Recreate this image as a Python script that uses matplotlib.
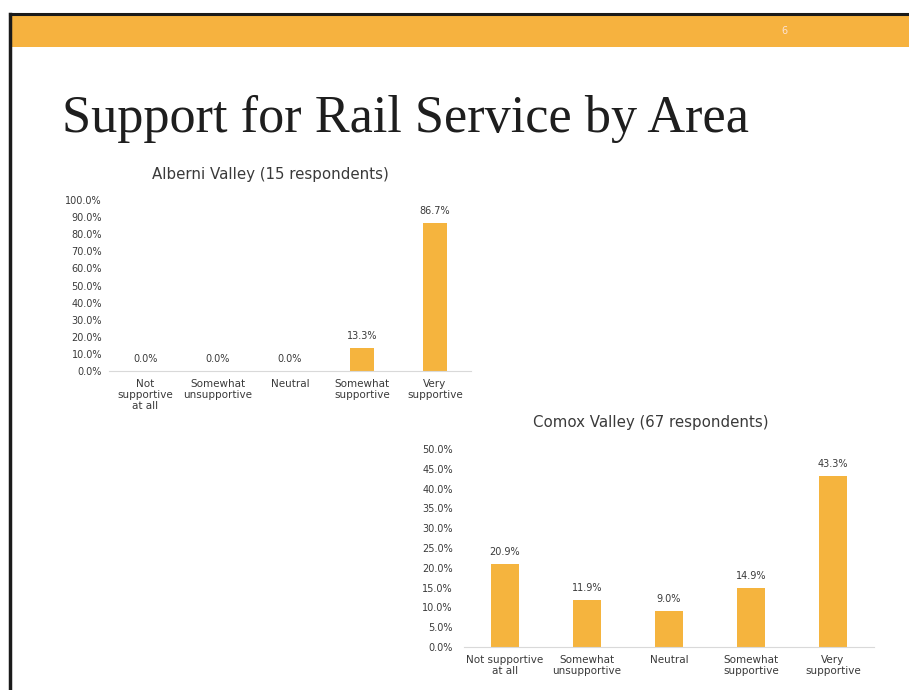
import matplotlib
matplotlib.use("Agg")
import matplotlib.pyplot as plt
from matplotlib.patches import Rectangle
from matplotlib.lines import Line2D

# survey results, percent of respondents
alberni_labels = ["Not\nsupportive\nat all", "Somewhat\nunsupportive", "Neutral",
                  "Somewhat\nsupportive", "Very\nsupportive"]
alberni_vals = [0.0, 0.0, 0.0, 13.3, 86.7]

comox_labels = ["Not supportive\nat all", "Somewhat\nunsupportive", "Neutral",
                "Somewhat\nsupportive", "Very\nsupportive"]
comox_vals = [20.9, 11.9, 9.0, 14.9, 43.3]

W, H = 909, 690
BAR = "#F5B43E"
TXT = "#3a3a3a"
SANS = ["DejaVu Sans"]

fig = plt.figure(figsize=(W / 100, H / 100), dpi=100)
fig.patch.set_facecolor("white")


def px(x0, y0, x1, y1):
    # pixel box (top-left origin) -> figure fraction rect
    return [x0 / W, 1 - y1 / H, (x1 - x0) / W, (y1 - y0) / H]


# slide frame + orange header band
fig.add_artist(Rectangle((10 / W, 1 - 47 / H), 1, 32 / H, transform=fig.transFigure,
                         facecolor="#F6B23F", edgecolor="none"))
fig.add_artist(Line2D([10 / W, 1], [1 - 14 / H, 1 - 14 / H], transform=fig.transFigure,
                      color="#1a1a1a", lw=2.2))
fig.add_artist(Line2D([10 / W, 10 / W], [1 - 14 / H, 0], transform=fig.transFigure,
                      color="#1a1a1a", lw=2.5))
fig.text(784 / W, 1 - 31 / H, "6", color="#fbe3d6", fontsize=7, ha="center", va="center",
         family=SANS)

fig.text(62 / W, 1 - 132 / H, "Support for Rail Service by Area", fontsize=37.6,
         family=["Liberation Serif"], color="#1e1e1e", ha="left", va="baseline")


def bar_chart(rect, labels, vals, ymax, step, title, title_xy, ypad):
    ax = fig.add_axes(rect)
    xs = range(len(vals))
    ax.bar(xs, vals, width=0.33, color=BAR)
    ax.set_xlim(-0.5, len(vals) - 0.5)
    ax.set_ylim(0, ymax)
    ax.set_yticks([i * step for i in range(int(ymax / step) + 1)])
    ax.set_yticklabels(["%.1f%%" % t for t in ax.get_yticks()], fontsize=7, color=TXT,
                       family=SANS)
    ax.set_xticks(list(xs))
    ax.set_xticklabels(labels, fontsize=7.5, color=TXT, family=SANS, linespacing=1.1)
    ax.tick_params(length=0)
    ax.tick_params(axis="y", pad=ypad)
    ax.tick_params(axis="x", pad=6)
    for s in ["top", "right", "left"]:
        ax.spines[s].set_visible(False)
    ax.spines["bottom"].set_color("#d9d9d9")
    ax.spines["bottom"].set_linewidth(0.8)
    for x, v in zip(xs, vals):
        ax.annotate("%.1f%%" % v, (x, v), xytext=(0, 5), textcoords="offset points",
                    ha="center", va="bottom", fontsize=7, color=TXT, family=SANS)
    fig.text(title_xy[0] / W, 1 - title_xy[1] / H, title, fontsize=10.8, color=TXT,
             family=SANS, ha="center", va="center")
    ax.patch.set_alpha(0)
    return ax


bar_chart(px(109, 200, 471, 371), alberni_labels, alberni_vals, 100, 10,
          "Alberni Valley (15 respondents)", (270, 175), 5)
bar_chart(px(464, 449, 874, 647), comox_labels, comox_vals, 50, 5,
          "Comox Valley (67 respondents)", (651, 423), 8)

fig.savefig("out.png", dpi=100, facecolor="white")
